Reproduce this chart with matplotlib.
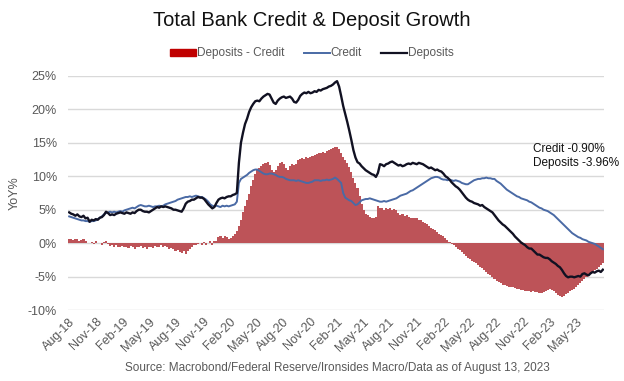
import pandas as pd
import matplotlib
matplotlib.use("Agg")
import matplotlib.pyplot as plt
from matplotlib.patches import Patch
from matplotlib.lines import Line2D

plt.rcParams['font.family'] = ['Liberation Sans', 'DejaVu Sans']

# weekly YoY growth (%), Aug-2018 .. Aug-2023
credit = [
    4.0, 3.9, 3.8, 3.7, 3.6, 3.5, 3.4, 3.4, 3.3, 3.3, 3.2, 3.3, 3.3, 3.4,
    3.6, 3.8, 4.0, 4.3, 4.5, 4.6, 4.7, 4.6, 4.7, 4.6, 4.7, 4.8, 4.7,
    4.9, 5.0, 5.1, 5.2, 5.3, 5.2, 5.4, 5.6, 5.7, 5.6, 5.5, 5.5, 5.6,
    5.5, 5.4, 5.5, 5.5, 5.6, 5.5, 5.6, 5.8, 5.9, 6.0, 6.1, 6.2, 6.3,
    6.5, 6.6, 6.7, 6.8, 6.9, 6.9, 7.0, 6.9, 7.0, 7.1, 7.0, 6.9, 6.9,
    6.7, 6.5, 6.2, 5.8, 5.6, 5.5, 5.6, 5.5, 5.4, 5.6, 5.5, 5.6, 5.5,
    5.6, 5.7, 5.8, 6.2, 9.0, 9.6, 9.8, 10.0, 10.2, 10.5, 10.7, 10.9, 11.0,
    11.0, 10.8, 10.6, 10.4, 10.3, 10.3, 10.4, 10.4, 10.3, 10.2, 10.0, 9.9, 9.9,
    9.8, 9.6, 9.5, 9.4, 9.4, 9.4, 9.3, 9.4, 9.3, 9.2, 9.1, 9.0, 9.0,
    9.1, 9.2, 9.4, 9.4, 9.4, 9.3, 9.4, 9.4, 9.5, 9.4, 9.5, 9.6, 9.8,
    9.6, 9.3, 9.0, 7.5, 6.8, 6.6, 6.4, 6.3, 6.0, 5.7, 5.8, 6.1, 6.4,
    6.5, 6.6, 6.6, 6.7, 6.6, 6.5, 6.4, 6.3, 6.2, 6.2, 6.3, 6.2, 6.3,
    6.4, 6.5, 6.6, 6.7, 6.9, 7.1, 7.2, 7.3, 7.4, 7.6, 7.8, 7.9, 8.1,
    8.3, 8.5, 8.7, 8.9, 9.1, 9.3, 9.5, 9.7, 9.8, 9.9, 9.9, 9.8, 9.6,
    9.5, 9.5, 9.4, 9.5, 9.4, 9.3, 9.4, 9.3, 9.2, 9.0, 8.9, 8.8, 8.8,
    9.0, 9.2, 9.4, 9.5, 9.6, 9.6, 9.7, 9.7, 9.8, 9.7, 9.7, 9.6, 9.6,
    9.3, 9.1, 8.9, 8.6, 8.3, 8.0, 7.8, 7.6, 7.4, 7.2, 7.0, 6.9, 6.7,
    6.6, 6.5, 6.4, 6.2, 6.1, 5.9, 5.7, 5.5, 5.3, 5.2, 5.0, 4.9, 4.8,
    4.6, 4.4, 4.2, 3.9, 3.6, 3.3, 3.0, 2.7, 2.4, 2.1, 1.8, 1.5, 1.3,
    1.1, 0.9, 0.8, 0.6, 0.5, 0.4, 0.2, 0.1, 0.0, -0.1, -0.3, -0.5, -0.7, -0.9,
]

deposits = [
    4.6, 4.4, 4.3, 4.1, 4.3, 4.0, 3.9, 4.1, 3.7, 3.8, 3.2, 3.5, 3.4, 3.6,
    3.5, 3.8, 3.9, 4.2, 4.7, 4.5, 4.2, 4.3, 4.2, 4.4, 4.5, 4.6, 4.5,
    4.4, 4.6, 4.5, 4.4, 4.6, 4.5, 4.8, 5.0, 5.0, 4.8, 4.7, 4.7, 4.6,
    4.8, 5.0, 5.2, 5.4, 5.3, 5.5, 5.4, 5.5, 5.4, 5.3, 5.2, 5.0, 5.0,
    4.9, 4.8, 4.7, 5.2, 5.9, 6.2, 6.3, 6.5, 6.5, 6.7, 6.9, 6.8, 6.8,
    6.6, 6.2, 5.8, 5.5, 5.2, 5.4, 6.0, 6.5, 6.7, 6.8, 6.7, 6.9, 7.0,
    7.0, 7.2, 7.3, 7.5, 12.0, 15.0, 16.5, 17.8, 18.6, 19.6, 20.3, 20.8, 21.2,
    21.3, 21.2, 21.6, 21.9, 22.1, 22.3, 22.2, 21.6, 21.0, 20.8, 21.3, 21.6, 21.8,
    21.9, 21.7, 21.8, 21.9, 21.6, 21.1, 21.0, 21.4, 22.0, 22.3, 22.5, 22.4, 22.6,
    22.4, 22.5, 22.7, 22.6, 22.9, 22.8, 23.0, 23.1, 23.2, 23.4, 23.5, 23.7, 24.0,
    24.2, 23.4, 22.0, 20.5, 19.3, 18.1, 16.8, 15.4, 13.9, 12.8, 12.1, 11.9, 11.5,
    11.2, 10.9, 10.7, 10.5, 10.3, 10.2, 9.9, 10.5, 11.8, 11.7, 11.5, 11.8, 11.9,
    12.1, 12.2, 12.0, 11.8, 11.6, 11.7, 11.5, 11.6, 11.8, 11.9, 11.8, 12.0, 11.9,
    11.8, 12.0, 11.9, 11.8, 11.6, 11.4, 11.2, 11.3, 11.1, 10.9, 11.0, 10.8, 10.7,
    10.4, 10.0, 9.8, 9.5, 9.1, 8.8, 8.5, 8.3, 8.0, 7.6, 7.2, 6.8, 6.5,
    6.3, 6.2, 6.0, 5.9, 5.8, 5.6, 5.7, 5.4, 5.2, 5.0, 4.8, 4.6, 4.2,
    3.8, 3.4, 3.1, 2.8, 2.6, 2.3, 2.0, 1.7, 1.4, 1.0, 0.7, 0.4, 0.1,
    -0.1, -0.3, -0.6, -0.8, -0.8, -1.1, -1.4, -1.7, -1.7, -1.9, -2.1, -2.2, -2.2,
    -2.4, -2.7, -2.9, -3.1, -3.4, -3.6, -4.0, -4.5, -4.9, -5.1, -5.0, -5.0, -5.1,
    -5.0, -4.9, -5.0, -4.6, -4.5, -4.7, -4.8, -4.5, -4.3, -4.4, -4.2, -4.1, -4.3, -3.96,
]

# deposits minus credit, as plotted (bars)
spread = [
    0.6, 0.7, 0.5, 0.6, 0.7, 0.4, 0.5, 0.6, 0.3, 0.1, 0.0, 0.2, -0.1, 0.3,
    0.0, 0.1, -0.2, 0.2, 0.4, -0.1, -0.4, -0.3, -0.5, -0.3, -0.5, -0.6, -0.4,
    -0.6, -0.5, -0.7, -0.4, -0.6, -0.8, -0.5, -0.6, -0.4, -0.7, -0.5, -0.8, -0.6,
    -0.5, -0.7, -0.4, -0.6, -0.5, -0.3, -0.5, -0.4, -0.6, -0.8, -0.7, -0.9, -1.1,
    -1.0, -1.3, -1.5, -1.2, -1.6, -1.1, -0.8, -0.5, -0.3, -0.2, -0.1, 0.0, -0.3,
    0.2, -0.3, 0.1, 0.3, -0.2, 0.4, 0.3, 0.9, 1.0, 0.8, 1.1, 0.9, 0.7,
    0.8, 1.0, 1.3, 1.8, 2.5, 3.5, 4.6, 5.5, 6.4, 7.4, 8.5, 9.5, 10.3,
    10.9, 11.3, 11.6, 11.8, 12.0, 12.1, 11.7, 11.0, 10.6, 10.9, 11.6, 12.0, 12.1,
    11.8, 11.3, 11.0, 11.5, 11.8, 11.7, 11.9, 12.4, 12.6, 12.7, 12.6, 12.8, 12.7,
    12.9, 13.0, 13.2, 13.3, 13.5, 13.4, 13.6, 13.5, 13.8, 13.9, 14.0, 14.2, 14.4,
    14.3, 14.0, 13.4, 12.8, 12.4, 12.0, 11.4, 10.6, 9.8, 9.0, 8.2, 7.0, 5.8,
    4.9, 4.4, 4.2, 3.9, 3.8, 3.8, 3.9, 5.6, 5.3, 5.2, 5.0, 5.3, 5.1,
    5.2, 5.0, 5.1, 4.9, 4.5, 4.2, 4.3, 4.1, 4.2, 3.9, 3.8, 3.8, 3.7,
    3.7, 3.5, 3.4, 3.2, 3.0, 2.8, 2.5, 2.3, 2.1, 1.9, 1.6, 1.4, 1.2,
    1.0, 0.8, 0.5, 0.2, -0.1, -0.3, -0.6, -0.8, -1.0, -1.3, -1.6, -1.9, -2.2,
    -2.4, -2.6, -2.8, -3.0, -3.3, -3.5, -3.7, -4.0, -4.3, -4.6, -4.8, -5.1, -5.4,
    -5.6, -5.8, -6.0, -6.2, -6.3, -6.4, -6.5, -6.6, -6.6, -6.7, -6.8, -6.9, -7.0,
    -7.0, -7.1, -7.2, -7.2, -7.3, -7.2, -7.3, -7.3, -7.4, -7.5, -7.3, -7.2, -7.0,
    -6.8, -7.0, -7.2, -7.4, -7.7, -7.9, -8.1, -7.9, -7.6, -7.5, -7.2, -7.0, -6.8,
    -6.5, -6.3, -6.0, -5.7, -5.4, -5.1, -4.8, -4.6, -4.3, -4.0, -3.8, -3.5, -3.2, -3.0,
]

dates = pd.date_range('2018-08-01', periods=len(credit), freq='7D')

tick_dates = pd.date_range('2018-08-01', '2023-05-01', freq='3MS')
tick_labels = [d.strftime('%b-%y') for d in tick_dates]

fig = plt.figure(figsize=(6.24, 3.81), dpi=100)
ax = fig.add_axes([0.109, 0.186, 0.859, 0.615])

gray = '#595959'
ax.bar(dates, spread, width=7, color='#bd5358', linewidth=0, zorder=2)
ax.plot(dates, credit, color='#4a6aa5', lw=1.4, zorder=3)
ax.plot(dates, deposits, color='#111122', lw=1.7, zorder=4)

ax.set_ylim(-10, 25)
ax.set_yticks(range(-10, 30, 5))
ax.set_yticklabels([f'{v}%' for v in range(-10, 30, 5)])
ax.set_xlim(dates[0] - pd.Timedelta(days=4), dates[-1] + pd.Timedelta(days=4))
ax.set_xticks(tick_dates)
ax.set_xticklabels(tick_labels, rotation=45, ha='right', rotation_mode='anchor')
ax.tick_params(axis='x', length=0, labelsize=9, colors=gray, pad=4)
ax.tick_params(axis='y', length=0, labelsize=9, colors=gray, pad=8)
ax.grid(axis='y', color='#d9d9d9', lw=1, zorder=0)
ax.set_axisbelow(True)
for s in ax.spines.values():
    s.set_visible(False)
ax.set_ylabel('YoY%', color=gray, fontsize=9, labelpad=5)

fig.text(0.5, 0.945, 'Total Bank Credit & Deposit Growth', ha='center', va='center',
         fontsize=14.5, color='#111111')

handles = [Patch(color='#c00000'),
           Line2D([], [], color='#4a6aa5', lw=1.4),
           Line2D([], [], color='#111122', lw=1.6)]
fig.legend(handles, ['Deposits - Credit', 'Credit', 'Deposits'], loc='center',
           bbox_to_anchor=(0.5, 0.86), ncol=3, frameon=False, fontsize=8.5,
           labelcolor=gray, handlelength=2.2, handleheight=0.5, handletextpad=0.1,
           columnspacing=1.6)

ax.text(0.868, 0.715, 'Credit -0.90%\nDeposits -3.96%', transform=ax.transAxes,
        fontsize=8.5, color='#111111', va='top', ha='left', linespacing=1.3)

fig.text(0.54, 0.035, 'Source: Macrobond/Federal Reserve/Ironsides Macro/Data as of August 13, 2023',
         ha='center', va='center', fontsize=8.5, color=gray)

fig.savefig('out.png', dpi=100)
